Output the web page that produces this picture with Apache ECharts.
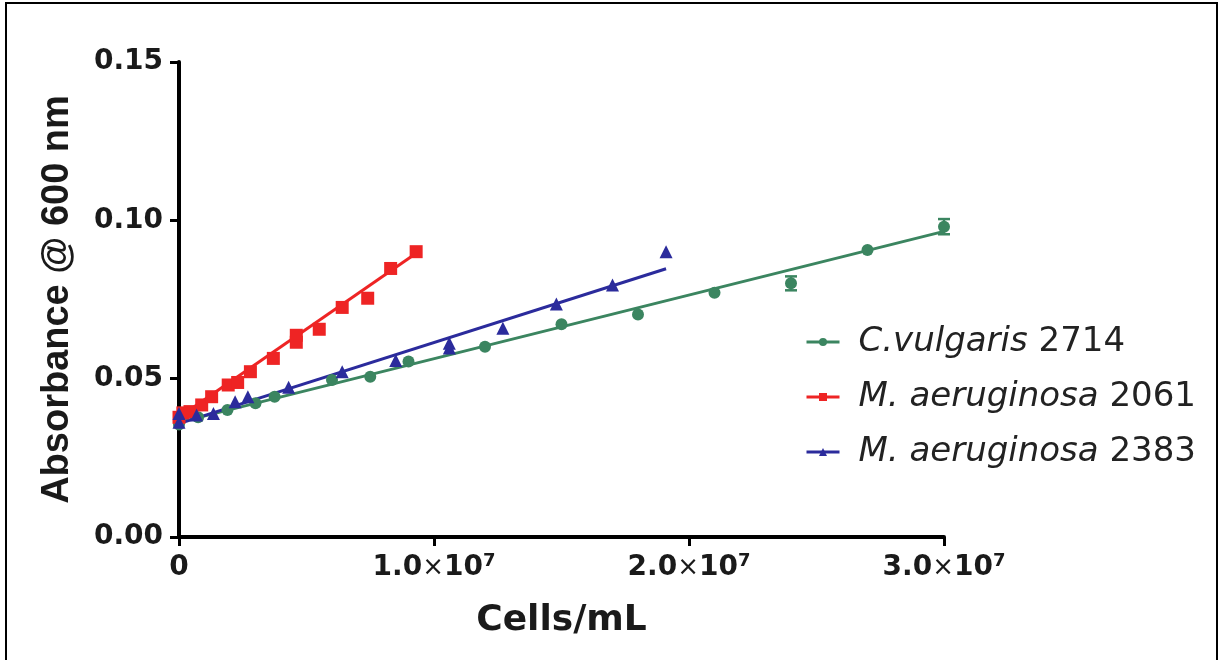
<!DOCTYPE html>
<html>
<head>
<meta charset="utf-8">
<title>Absorbance vs cells</title>
<script src="https://cdn.jsdelivr.net/npm/echarts@6/dist/echarts.min.js"></script>
<style>
  html, body { margin: 0; padding: 0; background: #fff; }
  #chart { width: 1222px; height: 660px; }
</style>
</head>
<body>
<div id="chart"></div>
<script>
  // series names (legend order)
  const names = ['C.vulgaris 2714', 'M. aeruginosa 2061', 'M. aeruginosa 2383']
  const colors = ['#3b8560', '#ee2424', '#2b2b9c']

  // C.vulgaris 2714 : cells/mL, absorbance
  const greenCells = [0, 0.075e7, 0.19e7, 0.3e7, 0.375e7, 0.6e7, 0.75e7, 0.9e7, 1.2e7, 1.5e7, 1.8e7, 2.1e7, 2.4e7, 2.7e7, 3.0e7]
  const greenAbs = [0.0355, 0.0378, 0.0401, 0.0422, 0.0443, 0.0496, 0.0506, 0.0554, 0.0601, 0.0672, 0.0703, 0.0771, 0.0801, 0.0906, 0.0980]
  const greenErrCells = [2.4e7, 3.0e7]
  const greenErr = [0.0022, 0.0024]
  const greenFit = [[0, 0.0362], [3.0e7, 0.0965]]

  // M. aeruginosa 2061
  const redCells = [0, 0.015e7, 0.043e7, 0.089e7, 0.128e7, 0.193e7, 0.23e7, 0.28e7, 0.37e7, 0.46e7, 0.46e7, 0.55e7, 0.64e7, 0.74e7, 0.83e7, 0.93e7]
  const redAbs = [0.0378, 0.0392, 0.0396, 0.0417, 0.0443, 0.0480, 0.0488, 0.0522, 0.0564, 0.0615, 0.0637, 0.0656, 0.0725, 0.0754, 0.0848, 0.0901]
  const redFit = [[0, 0.0378], [0.93e7, 0.0896]]

  // M. aeruginosa 2383
  const blueCells = [0, 0, 0.069e7, 0.135e7, 0.22e7, 0.27e7, 0.43e7, 0.64e7, 0.85e7, 1.06e7, 1.06e7, 1.27e7, 1.48e7, 1.70e7, 1.91e7]
  const blueAbs = [0.0362, 0.0390, 0.0385, 0.0390, 0.0427, 0.0443, 0.0473, 0.0522, 0.0557, 0.0597, 0.0612, 0.0659, 0.0736, 0.0796, 0.0901]
  const blueFit = [[0, 0.0358], [1.91e7, 0.0847]]

  // axis ticks
  const xTicks = [0, 1e7, 2e7, 3e7]
  const yTicks = [0, 0.05, 0.10, 0.15]

  const pairs = (xs, ys) => xs.map((x, i) => [x, ys[i]])
  const font = 'DejaVu Sans'
  const ink = '#1a1a1a'

  function fitLine(name, data, color, symbol) {
    return {
      name: name,
      type: 'line',
      data: data,
      symbol: symbol,
      showSymbol: false,
      color: color,
      lineStyle: { width: 3, color: color },
      silent: true,
      z: 2
    }
  }

  function points(name, data, color, symbol, size) {
    return {
      name: name,
      type: 'scatter',
      data: data,
      symbol: symbol,
      symbolSize: size,
      itemStyle: { color: color, opacity: 1 },
      z: 3
    }
  }

  const errData = greenErrCells.map((x, i) => {
    const y = greenAbs[greenCells.indexOf(x)]
    return [x, y - greenErr[i], y + greenErr[i]]
  })

  const chart = echarts.init(document.getElementById('chart'))
  chart.setOption({
    animation: false,
    backgroundColor: '#fff',
    graphic: [{
      type: 'rect',
      shape: { x: 6, y: 3, width: 1211, height: 700 },
      style: { fill: 'none', stroke: '#000', lineWidth: 2 },
      silent: true
    }],
    grid: { left: 179, top: 62, right: 278, bottom: 123, containLabel: false },
    legend: {
      orient: 'vertical',
      left: 800,
      top: 317,
      data: names,
      selectedMode: false,
      itemWidth: 33,
      itemHeight: 10,
      itemGap: 15,
      lineStyle: { width: 3 },
      textStyle: {
        fontFamily: font,
        fontSize: 34,
        color: '#222',
        lineHeight: 40,
        padding: [0, 0, 0, 14],
        rich: {
          it: { fontFamily: font, fontSize: 34, fontStyle: 'italic', color: '#222', lineHeight: 40 }
        }
      },
      formatter: function (name) {
        const i = name.lastIndexOf(' ')
        return '{it|' + name.slice(0, i) + '} ' + name.slice(i + 1)
      }
    },
    xAxis: {
      type: 'value',
      min: xTicks[0],
      max: xTicks[xTicks.length - 1],
      interval: 1e7,
      name: 'Cells/mL',
      nameLocation: 'middle',
      nameGap: 66,
      nameTextStyle: { fontFamily: font, fontSize: 36, fontWeight: 'bold', color: ink },
      splitLine: { show: false },
      axisLine: { lineStyle: { color: '#000', width: 4 } },
      axisTick: { length: 9, lineStyle: { color: '#000', width: 3 } },
      axisLabel: {
        margin: 15,
        formatter: function (v) {
          if (v === 0) return '{b|0}'
          return '{b|' + (v / 1e7).toFixed(1) + '}{x|×}{b|10}{sup|7}'
        },
        rich: {
          b: { fontFamily: font, fontSize: 28, fontWeight: 'bold', color: ink, lineHeight: 32 },
          x: { fontFamily: font, fontSize: 26, color: ink, lineHeight: 32 },
          sup: { fontFamily: font, fontSize: 18, fontWeight: 'bold', color: ink, lineHeight: 18, verticalAlign: 'top' }
        }
      }
    },
    yAxis: {
      type: 'value',
      min: yTicks[0],
      max: yTicks[yTicks.length - 1],
      interval: 0.05,
      name: 'Absorbance @ 600 nm',
      nameLocation: 'middle',
      nameGap: 102,
      nameTextStyle: { fontFamily: 'Liberation Sans', fontSize: 38, fontWeight: 'bold', color: ink },
      splitLine: { show: false },
      axisLine: { lineStyle: { color: '#000', width: 4 } },
      axisTick: { length: 9, lineStyle: { color: '#000', width: 3 } },
      axisLabel: {
        margin: 16,
        fontFamily: font,
        fontSize: 28,
        fontWeight: 'bold',
        color: ink,
        formatter: v => v.toFixed(2)
      }
    },
    series: [
      // fit lines first so the legend icon is line + marker
      fitLine(names[0], greenFit, colors[0], 'circle'),
      fitLine(names[1], redFit, colors[1], 'rect'),
      fitLine(names[2], blueFit, colors[2], 'triangle'),
      points(names[0], pairs(greenCells, greenAbs), colors[0], 'circle', 12),
      points(names[1], pairs(redCells, redAbs), colors[1], 'rect', 13),
      points(names[2], pairs(blueCells, blueAbs), colors[2], 'triangle', 13),
      {
        // error bars on C.vulgaris
        type: 'custom',
        silent: true,
        z: 3,
        data: errData,
        renderItem: function (params, api) {
          const lo = api.coord([api.value(0), api.value(1)])
          const hi = api.coord([api.value(0), api.value(2)])
          const w = 6
          const st = { stroke: colors[0], lineWidth: 2.5 }
          return {
            type: 'group',
            children: [
              { type: 'line', shape: { x1: lo[0], y1: lo[1], x2: hi[0], y2: hi[1] }, style: st },
              { type: 'line', shape: { x1: lo[0] - w, y1: lo[1], x2: lo[0] + w, y2: lo[1] }, style: st },
              { type: 'line', shape: { x1: hi[0] - w, y1: hi[1], x2: hi[0] + w, y2: hi[1] }, style: st }
            ]
          }
        }
      }
    ]
  })
</script>
</body>
</html>
